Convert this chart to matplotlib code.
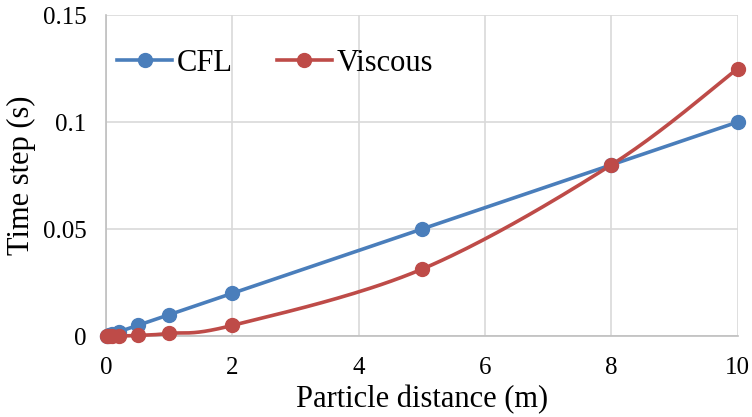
import matplotlib
matplotlib.use("Agg")
import matplotlib.pyplot as plt
import numpy as np

plt.rcParams["font.family"] = ["Liberation Serif", "DejaVu Serif"]

distance = [0.01, 0.05, 0.1, 0.2, 0.5, 1, 2, 5, 8, 10]
dt_cfl = [0.0001, 0.0005, 0.001, 0.002, 0.005, 0.01, 0.02, 0.05, 0.08, 0.1]
dt_viscous = [0.0000001, 0.000003, 0.0000125, 0.00005, 0.0003, 0.00125, 0.005, 0.03125, 0.08, 0.125]

BLUE = "#4a7ebb"
RED = "#be4b48"


def smooth_curve(ax, xs, ys, n=40):
    """Excel-style smoothed line: Catmull-Rom Bezier segments in display space."""
    pts = ax.transData.transform(np.column_stack([xs, ys]))
    out = [pts[0]]
    t = np.linspace(0, 1, n)[1:, None]
    for i in range(len(pts) - 1):
        p0 = pts[max(i - 1, 0)]
        p1 = pts[i]
        p2 = pts[i + 1]
        p3 = pts[min(i + 2, len(pts) - 1)]
        c1 = p1 + (p2 - p0) / 6.0
        c2 = p2 - (p3 - p1) / 6.0
        seg = ((1 - t) ** 3) * p1 + 3 * ((1 - t) ** 2) * t * c1 + 3 * (1 - t) * t ** 2 * c2 + t ** 3 * p2
        out.extend(seg)
    out = ax.transData.inverted().transform(np.array(out))
    return out[:, 0], out[:, 1]


fig = plt.figure(figsize=(7.52, 4.17), dpi=100)
ax = fig.add_axes([0.141, 0.194, 0.840, 0.770])
ax.set_xlim(0, 10)
ax.set_ylim(0, 0.15)

for ys, color, label in [(dt_cfl, BLUE, "CFL"), (dt_viscous, RED, "Viscous")]:
    sx, sy = smooth_curve(ax, distance, ys)
    ax.plot(sx, sy, color=color, lw=2.6, zorder=3, clip_on=False)
    ax.plot(distance, ys, "o", color=color, ms=10, zorder=4, clip_on=False)
    ax.plot([], [], "-o", color=color, lw=2.6, ms=10, label=label)

ax.set_xticks([0, 2, 4, 6, 8, 10])
ax.set_yticks([0, 0.05, 0.1, 0.15])
ax.set_yticklabels(["0", "0.05", "0.1", "0.15"])
ax.grid(True, color="#d9d9d9", lw=1.2)
ax.set_axisbelow(True)
for side in ["top", "right"]:
    ax.spines[side].set_visible(False)
for side in ["left", "bottom"]:
    ax.spines[side].set_color("#bfbfbf")
    ax.spines[side].set_linewidth(1.2)
ax.tick_params(length=0, labelsize=18)
ax.tick_params(axis="x", pad=15)
ax.tick_params(axis="y", pad=14)

ax.set_xlabel("Particle distance (m)", fontsize=22, labelpad=4)
ax.set_ylabel("Time step (s)", fontsize=22, labelpad=5)

ax.legend(loc="center left", bbox_to_anchor=(0.0174, 0.85), ncol=2, frameon=False,
          fontsize=22, handlelength=1.8, columnspacing=1.45, handletextpad=0.15,
          borderpad=0, borderaxespad=0)

fig.savefig("out.png", dpi=100)
